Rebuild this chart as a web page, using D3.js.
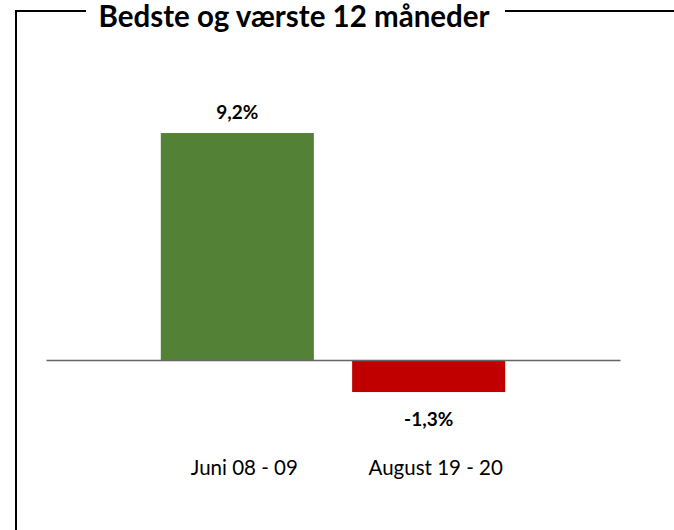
<!DOCTYPE html>
<html>
<head>
<meta charset="utf-8">
<script src="https://cdn.jsdelivr.net/npm/d3@7"></script>
<style>
  body { margin: 0; background: #fff; }
  svg { display: block; font-family: Lato, "Open Sans", sans-serif; }
</style>
</head>
<body>
<svg></svg>
<script>
// Size of the svg
var width = 674;
var height = 530;

const title = "Bedste og værste 12 måneder";
const categories = ["Juni 08 - 09", "August 19 - 20"];
const values = [9.2, -1.3];
const colors = ["#538135", "#C00000"];

// comma decimals and a plain hyphen, like the original
const fmt = (v) => (v < 0 ? "-" : "") + d3.format(".1f")(Math.abs(v)).replace(".", ",") + "%";

var svg = d3.select("svg").attr("width", width).attr("height", height);

// Frame round the chart, broken by the title
svg.append("path")
    .attr("d", "M16," + height + "V11H86")
    .attr("fill", "none")
    .attr("stroke", "#000")
    .attr("stroke-width", 2);

svg.append("path")
    .attr("d", "M505,11H" + width)
    .attr("fill", "none")
    .attr("stroke", "#000")
    .attr("stroke-width", 2);

svg.append("text")
    .attr("x", 294)
    .attr("y", 27)
    .attr("text-anchor", "middle")
    .style("font-size", "29.5px")
    .style("font-weight", "bold")
    .text(title);

// Scales
let xScale = d3.scaleBand().domain(categories).range([46, 620])
    .paddingInner(0.2).paddingOuter(0.6);

let yScale = d3.scaleLinear().domain([-2, 10]).range([409.3, 113.3]);

// Bars
svg.selectAll("rect.bar").data(values).enter()
    .append("rect")
    .attr("class", "bar")
    .attr("x", (d, i) => xScale(categories[i]))
    .attr("width", xScale.bandwidth())
    .attr("y", (d) => yScale(Math.max(0, d)))
    .attr("height", (d) => Math.abs(yScale(d) - yScale(0)))
    .attr("fill", (d, i) => colors[i]);

// Value labels
svg.selectAll("text.val").data(values).enter()
    .append("text")
    .attr("class", "val")
    .attr("x", (d, i) => xScale(categories[i]) + xScale.bandwidth() / 2)
    .attr("y", (d) => d >= 0 ? yScale(d) - 14 : yScale(d) + 34)
    .attr("text-anchor", "middle")
    .style("font-size", "19px")
    .style("font-weight", "bold")
    .text(fmt);

// Zero line with the category names well below it
let x_Axis = d3.axisBottom(xScale).tickSize(0).tickSizeOuter(0).tickPadding(100);

let axisG = svg.append("g")
    .attr("transform", "translate(0," + yScale(0) + ")")
    .call(x_Axis);

axisG.select(".domain").attr("stroke", "#666").attr("stroke-width", 1.5);
axisG.selectAll("text")
    .attr("dx", 7)
    .style("font-family", "Lato, 'Open Sans', sans-serif")
    .style("font-size", "20.5px")
    .attr("fill", "#000");
</script>
</body>
</html>
